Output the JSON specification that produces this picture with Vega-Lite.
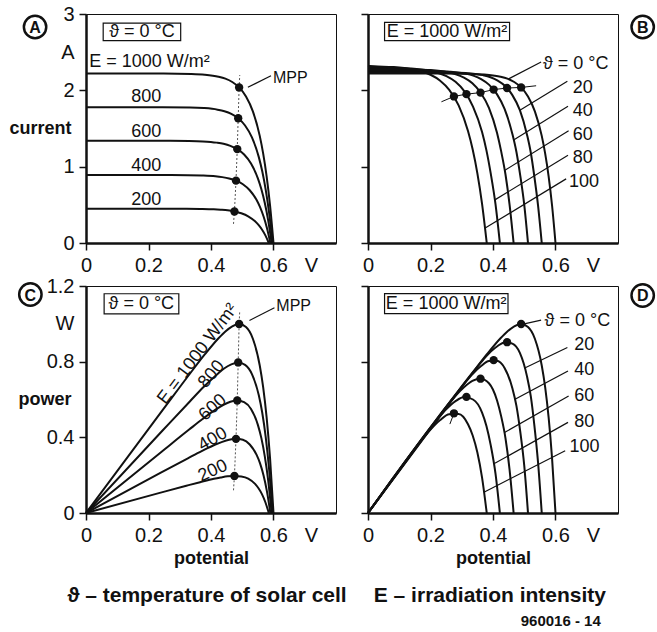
{
"$schema": "https://vega.github.io/schema/vega-lite/v6.json",
"background": "white",
"padding": {"left": 8, "top": 3, "right": 5, "bottom": 5},
"bounds": "flush",
"columns": 2,
"spacing": {"row": 43, "column": 32},
"datasets": {
"curvesE": [
{"E":"1000","V":0.600,"I":0,"P":0},{"E":"1000","V":0.589,"I":0.491,"P":0.289},{"E":"1000","V":0.578,"I":0.874,"P":0.505},{"E":"1000","V":0.567,"I":1.171,"P":0.664},{"E":"1000","V":0.556,"I":1.403,"P":0.780},{"E":"1000","V":0.534,"I":1.725,"P":0.921},{"E":"1000","V":0.512,"I":1.920,"P":0.983},{"E":"1000","V":0.490,"I":2.038,"P":0.999},{"E":"1000","V":0.468,"I":2.109,"P":0.987},{"E":"1000","V":0.446,"I":2.153,"P":0.960},{"E":"1000","V":0.424,"I":2.179,"P":0.924},{"E":"1000","V":0.380,"I":2.205,"P":0.838},{"E":"1000","V":0.336,"I":2.214,"P":0.744},{"E":"1000","V":0.248,"I":2.219,"P":0.550},{"E":"1000","V":0,"I":2.22,"P":0},
{"E":"800","V":0.597,"I":0,"P":0},{"E":"800","V":0.586,"I":0.394,"P":0.231},{"E":"800","V":0.575,"I":0.700,"P":0.403},{"E":"800","V":0.564,"I":0.939,"P":0.530},{"E":"800","V":0.553,"I":1.125,"P":0.622},{"E":"800","V":0.531,"I":1.383,"P":0.734},{"E":"800","V":0.509,"I":1.539,"P":0.783},{"E":"800","V":0.487,"I":1.634,"P":0.796},{"E":"800","V":0.465,"I":1.691,"P":0.786},{"E":"800","V":0.443,"I":1.726,"P":0.765},{"E":"800","V":0.421,"I":1.747,"P":0.735},{"E":"800","V":0.377,"I":1.768,"P":0.667},{"E":"800","V":0.333,"I":1.776,"P":0.591},{"E":"800","V":0.245,"I":1.779,"P":0.436},{"E":"800","V":0,"I":1.78,"P":0},
{"E":"600","V":0.594,"I":0,"P":0},{"E":"600","V":0.583,"I":0.296,"P":0.173},{"E":"600","V":0.572,"I":0.527,"P":0.301},{"E":"600","V":0.561,"I":0.707,"P":0.397},{"E":"600","V":0.550,"I":0.847,"P":0.466},{"E":"600","V":0.528,"I":1.041,"P":0.550},{"E":"600","V":0.506,"I":1.159,"P":0.586},{"E":"600","V":0.484,"I":1.230,"P":0.595},{"E":"600","V":0.462,"I":1.273,"P":0.588},{"E":"600","V":0.440,"I":1.300,"P":0.572},{"E":"600","V":0.418,"I":1.315,"P":0.550},{"E":"600","V":0.374,"I":1.331,"P":0.498},{"E":"600","V":0.330,"I":1.337,"P":0.441},{"E":"600","V":0.242,"I":1.340,"P":0.324},{"E":"600","V":0,"I":1.34,"P":0},
{"E":"400","V":0.590,"I":0,"P":0},{"E":"400","V":0.579,"I":0.197,"P":0.114},{"E":"400","V":0.568,"I":0.350,"P":0.199},{"E":"400","V":0.557,"I":0.470,"P":0.262},{"E":"400","V":0.546,"I":0.563,"P":0.307},{"E":"400","V":0.524,"I":0.691,"P":0.362},{"E":"400","V":0.502,"I":0.770,"P":0.387},{"E":"400","V":0.480,"I":0.817,"P":0.392},{"E":"400","V":0.458,"I":0.846,"P":0.387},{"E":"400","V":0.436,"I":0.863,"P":0.376},{"E":"400","V":0.414,"I":0.874,"P":0.362},{"E":"400","V":0.370,"I":0.884,"P":0.327},{"E":"400","V":0.326,"I":0.888,"P":0.289},{"E":"400","V":0.238,"I":0.890,"P":0.212},{"E":"400","V":0,"I":0.89,"P":0},
{"E":"200","V":0.585,"I":0,"P":0},{"E":"200","V":0.574,"I":0.100,"P":0.057},{"E":"200","V":0.563,"I":0.177,"P":0.100},{"E":"200","V":0.552,"I":0.237,"P":0.131},{"E":"200","V":0.541,"I":0.284,"P":0.154},{"E":"200","V":0.519,"I":0.350,"P":0.182},{"E":"200","V":0.497,"I":0.389,"P":0.193},{"E":"200","V":0.475,"I":0.413,"P":0.196},{"E":"200","V":0.453,"I":0.428,"P":0.194},{"E":"200","V":0.431,"I":0.436,"P":0.188},{"E":"200","V":0.409,"I":0.442,"P":0.181},{"E":"200","V":0.365,"I":0.447,"P":0.163},{"E":"200","V":0.321,"I":0.449,"P":0.144},{"E":"200","V":0.233,"I":0.450,"P":0.105},{"E":"200","V":0,"I":0.45,"P":0}
],
"curvesT": [
{"T":"0","V":0.600,"I":0,"P":0},{"T":"0","V":0.589,"I":0.491,"P":0.289},{"T":"0","V":0.578,"I":0.874,"P":0.505},{"T":"0","V":0.567,"I":1.171,"P":0.664},{"T":"0","V":0.556,"I":1.403,"P":0.780},{"T":"0","V":0.534,"I":1.725,"P":0.921},{"T":"0","V":0.512,"I":1.920,"P":0.983},{"T":"0","V":0.490,"I":2.038,"P":0.999},{"T":"0","V":0.468,"I":2.109,"P":0.987},{"T":"0","V":0.446,"I":2.153,"P":0.960},{"T":"0","V":0.424,"I":2.179,"P":0.924},{"T":"0","V":0.380,"I":2.205,"P":0.838},{"T":"0","V":0.336,"I":2.214,"P":0.744},{"T":"0","V":0.248,"I":2.219,"P":0.550},{"T":"0","V":0,"I":2.22,"P":0},
{"T":"20","V":0.556,"I":0,"P":0},{"T":"20","V":0.544,"I":0.496,"P":0.270},{"T":"20","V":0.532,"I":0.881,"P":0.469},{"T":"20","V":0.521,"I":1.182,"P":0.616},{"T":"20","V":0.509,"I":1.416,"P":0.721},{"T":"20","V":0.486,"I":1.740,"P":0.846},{"T":"20","V":0.462,"I":1.937,"P":0.895},{"T":"20","V":0.439,"I":2.056,"P":0.903},{"T":"20","V":0.415,"I":2.128,"P":0.883},{"T":"20","V":0.392,"I":2.172,"P":0.852},{"T":"20","V":0.368,"I":2.199,"P":0.809},{"T":"20","V":0.321,"I":2.225,"P":0.714},{"T":"20","V":0.274,"I":2.234,"P":0.612},{"T":"20","V":0.180,"I":2.239,"P":0.403},{"T":"20","V":0,"I":2.24,"P":0},
{"T":"40","V":0.512,"I":0,"P":0},{"T":"40","V":0.500,"I":0.500,"P":0.250},{"T":"40","V":0.487,"I":0.889,"P":0.433},{"T":"40","V":0.475,"I":1.192,"P":0.566},{"T":"40","V":0.462,"I":1.429,"P":0.660},{"T":"40","V":0.437,"I":1.756,"P":0.767},{"T":"40","V":0.412,"I":1.954,"P":0.805},{"T":"40","V":0.387,"I":2.075,"P":0.803},{"T":"40","V":0.362,"I":2.148,"P":0.777},{"T":"40","V":0.337,"I":2.192,"P":0.739},{"T":"40","V":0.312,"I":2.219,"P":0.692},{"T":"40","V":0.262,"I":2.245,"P":0.588},{"T":"40","V":0.212,"I":2.254,"P":0.478},{"T":"40","V":0.112,"I":2.259,"P":0.253},{"T":"40","V":0,"I":2.26,"P":0},
{"T":"60","V":0.466,"I":0,"P":0},{"T":"60","V":0.453,"I":0.504,"P":0.229},{"T":"60","V":0.440,"I":0.897,"P":0.395},{"T":"60","V":0.426,"I":1.203,"P":0.512},{"T":"60","V":0.413,"I":1.441,"P":0.595},{"T":"60","V":0.387,"I":1.771,"P":0.686},{"T":"60","V":0.360,"I":1.972,"P":0.710},{"T":"60","V":0.334,"I":2.093,"P":0.699},{"T":"60","V":0.307,"I":2.166,"P":0.665},{"T":"60","V":0.281,"I":2.211,"P":0.621},{"T":"60","V":0.254,"I":2.238,"P":0.569},{"T":"60","V":0.201,"I":2.265,"P":0.455},{"T":"60","V":0.148,"I":2.274,"P":0.337},{"T":"60","V":0.042,"I":2.279,"P":0.096},{"T":"60","V":0,"I":2.28,"P":0},
{"T":"80","V":0.422,"I":0,"P":0},{"T":"80","V":0.408,"I":0.509,"P":0.208},{"T":"80","V":0.393,"I":0.905,"P":0.356},{"T":"80","V":0.379,"I":1.214,"P":0.460},{"T":"80","V":0.365,"I":1.454,"P":0.531},{"T":"80","V":0.336,"I":1.787,"P":0.600},{"T":"80","V":0.308,"I":1.989,"P":0.613},{"T":"80","V":0.280,"I":2.111,"P":0.591},{"T":"80","V":0.251,"I":2.186,"P":0.549},{"T":"80","V":0.222,"I":2.231,"P":0.495},{"T":"80","V":0.194,"I":2.258,"P":0.438},{"T":"80","V":0.137,"I":2.285,"P":0.313},{"T":"80","V":0.080,"I":2.294,"P":0.184},{"T":"80","V":0,"I":2.30,"P":0},
{"T":"100","V":0.380,"I":0,"P":0},{"T":"100","V":0.365,"I":0.513,"P":0.187},{"T":"100","V":0.350,"I":0.913,"P":0.320},{"T":"100","V":0.335,"I":1.224,"P":0.410},{"T":"100","V":0.320,"I":1.466,"P":0.469},{"T":"100","V":0.290,"I":1.802,"P":0.523},{"T":"100","V":0.260,"I":2.006,"P":0.522},{"T":"100","V":0.230,"I":2.130,"P":0.490},{"T":"100","V":0.200,"I":2.204,"P":0.441},{"T":"100","V":0.170,"I":2.250,"P":0.383},{"T":"100","V":0.140,"I":2.278,"P":0.319},{"T":"100","V":0.080,"I":2.305,"P":0.184},{"T":"100","V":0.020,"I":2.314,"P":0.046},{"T":"100","V":0,"I":2.32,"P":0}
],
"mppE": [
{"E":"1000","V":0.490,"I":2.038,"P":0.999},{"E":"800","V":0.487,"I":1.634,"P":0.796},{"E":"600","V":0.484,"I":1.230,"P":0.595},{"E":"400","V":0.480,"I":0.817,"P":0.392},{"E":"200","V":0.475,"I":0.413,"P":0.196}
],
"mppLineE": [
{"V":0.472,"I":0.25,"P":0.12},{"V":0.475,"I":0.413,"P":0.196},{"V":0.480,"I":0.817,"P":0.392},{"V":0.484,"I":1.230,"P":0.595},{"V":0.487,"I":1.634,"P":0.796},{"V":0.490,"I":2.038,"P":0.999},{"V":0.492,"I":2.2,"P":1.07}
],
"mppT": [
{"T":"0","V":0.490,"I":2.038,"P":0.999},{"T":"20","V":0.445,"I":2.03,"P":0.903},{"T":"40","V":0.402,"I":2.01,"P":0.808},{"T":"60","V":0.360,"I":1.97,"P":0.710},{"T":"80","V":0.315,"I":1.95,"P":0.614},{"T":"100","V":0.275,"I":1.92,"P":0.527}
],
"locusB": [
{"V":0.235,"I":1.85},{"V":0.275,"I":1.92},{"V":0.315,"I":1.95},{"V":0.360,"I":1.97},{"V":0.402,"I":2.01},{"V":0.445,"I":2.03},{"V":0.490,"I":2.038},{"V":0.538,"I":2.06}
],
"locusD": [
{"V":0.262,"P":0.47},{"V":0.275,"P":0.527}
],
"leadB": [
{"T":"0","V":0.450,"I":2.15},{"T":"0","V":0.554,"I":2.37},
{"T":"20","V":0.486,"I":1.74},{"T":"20","V":0.638,"I":2.12},
{"T":"40","V":0.466,"I":1.35},{"T":"40","V":0.640,"I":1.79},
{"T":"60","V":0.437,"I":0.95},{"T":"60","V":0.642,"I":1.47},
{"T":"80","V":0.406,"I":0.565},{"T":"80","V":0.640,"I":1.15},
{"T":"100","V":0.375,"I":0.196},{"T":"100","V":0.634,"I":0.84}
],
"leadD": [
{"T":"0","V":0.500,"P":1.00},{"T":"0","V":0.554,"P":1.02},
{"T":"20","V":0.500,"P":0.765},{"T":"20","V":0.638,"P":0.875},
{"T":"40","V":0.469,"P":0.60},{"T":"40","V":0.640,"P":0.751},
{"T":"60","V":0.437,"P":0.426},{"T":"60","V":0.642,"P":0.619},
{"T":"80","V":0.403,"P":0.26},{"T":"80","V":0.640,"P":0.479},
{"T":"100","V":0.371,"P":0.11},{"T":"100","V":0.631,"P":0.329}
]
},
"concat": [
{
"width": 250, "height": 229,
"encoding": {
"x": {"field": "V", "type": "quantitative", "scale": {"domain": [0, 0.8], "nice": false},
 "axis": {"values": [0, 0.2, 0.4, 0.6, 0.72], "format": "~g", "labelExpr": "datum.value > 0.7 ? 'V' : datum.label", "tickOpacity": {"condition": {"test": "datum.value > 0.7", "value": 0}, "value": 1}, "title": null}},
"y": {"field": "I", "type": "quantitative", "scale": {"domain": [0, 3], "nice": false},
 "axis": {"values": [0, 1, 2, 2.5, 3], "format": "~g", "labelExpr": "datum.value == 2.5 ? 'A' : datum.label", "tickOpacity": {"condition": {"test": "datum.value == 2.5", "value": 0}, "value": 1}, "title": "current", "titleAngle": 0, "titleAlign": "right", "titleBaseline": "middle", "titleX": -15, "titleY": 114}}
},
"layer": [
{"data": {"name": "curvesE"}, "mark": {"type": "line", "interpolate": "monotone", "strokeWidth": 2, "color": "#111"}, "encoding": {"detail": {"field": "E", "type": "nominal"}}},
{"data": {"name": "mppLineE"}, "mark": {"type": "line", "strokeDash": [2, 2], "strokeWidth": 1, "color": "#555"}},
{"data": {"name": "mppE"}, "mark": {"type": "point", "filled": true, "size": 70, "opacity": 1, "color": "#111"}},
{"data": {"values": [{"V": 0.518, "I": 2.04}, {"V": 0.592, "I": 2.19}]}, "mark": {"type": "line", "strokeWidth": 1.2, "color": "#111"}},
{"data": {"values": [{"V": 0.01, "I": 2.37, "t": "E = 1000 W/m²"}, {"V": 0.145, "I": 1.91, "t": "800"}, {"V": 0.145, "I": 1.46, "t": "600"}, {"V": 0.145, "I": 1.01, "t": "400"}, {"V": 0.145, "I": 0.56, "t": "200"}]},
 "mark": {"type": "text", "align": "left", "baseline": "middle", "fontSize": 18}, "encoding": {"text": {"field": "t"}}},
{"data": {"values": [{"V": 0.598, "I": 2.16, "t": "MPP"}]}, "mark": {"type": "text", "align": "left", "baseline": "middle", "fontSize": 16}, "encoding": {"text": {"field": "t"}}},
{"data": {"values": [{"V": 0.055, "V2": 0.303, "I": 2.88, "I2": 2.65}]}, "mark": {"type": "rect", "filled": false, "stroke": "#111", "strokeWidth": 1.2}, "encoding": {"x2": {"field": "V2"}, "y2": {"field": "I2"}}},
{"data": {"values": [{"V": 0.179, "I": 2.765, "t": "ϑ = 0 °C"}]}, "mark": {"type": "text", "align": "center", "baseline": "middle", "fontSize": 18}, "encoding": {"text": {"field": "t"}}},
{"data": {"values": [{"V": -0.163, "I": 2.83, "t": "A"}]}, "layer": [
 {"mark": {"type": "point", "size": 500, "strokeWidth": 2.5, "color": "#111", "filled": false, "opacity": 1}},
 {"mark": {"type": "text", "fontSize": 16, "fontWeight": "bold", "align": "center", "baseline": "middle", "dy": 1}, "encoding": {"text": {"field": "t"}}}]}
]
},
{
"width": 250, "height": 229,
"encoding": {
"x": {"field": "V", "type": "quantitative", "scale": {"domain": [0, 0.8], "nice": false},
 "axis": {"values": [0, 0.2, 0.4, 0.6, 0.72], "format": "~g", "labelExpr": "datum.value > 0.7 ? 'V' : datum.label", "tickOpacity": {"condition": {"test": "datum.value > 0.7", "value": 0}, "value": 1}, "title": null}},
"y": {"field": "I", "type": "quantitative", "scale": {"domain": [0, 3], "nice": false},
 "axis": {"values": [0, 1, 2, 3], "labels": false, "title": null}}
},
"layer": [
{"data": {"name": "curvesT"}, "mark": {"type": "line", "interpolate": "monotone", "strokeWidth": 2, "color": "#111"}, "encoding": {"detail": {"field": "T", "type": "nominal"}}},
{"data": {"name": "locusB"}, "mark": {"type": "line", "strokeWidth": 1, "color": "#111"}},
{"data": {"name": "mppT"}, "mark": {"type": "point", "filled": true, "size": 70, "opacity": 1, "color": "#111"}},
{"data": {"name": "leadB"}, "mark": {"type": "line", "strokeWidth": 1.2, "color": "#111"}, "encoding": {"detail": {"field": "T", "type": "nominal"}}},
{"data": {"values": [{"V": 0.560, "I": 2.35, "t": "ϑ = 0 °C"}, {"V": 0.655, "I": 2.03, "t": "20"}, {"V": 0.655, "I": 1.73, "t": "40"}, {"V": 0.655, "I": 1.41, "t": "60"}, {"V": 0.655, "I": 1.12, "t": "80"}, {"V": 0.643, "I": 0.80, "t": "100"}]},
 "mark": {"type": "text", "align": "left", "baseline": "middle", "fontSize": 18}, "encoding": {"text": {"field": "t"}}},
{"data": {"values": [{"V": 0.053, "V2": 0.453, "I": 2.89, "I2": 2.65}]}, "mark": {"type": "rect", "filled": false, "stroke": "#111", "strokeWidth": 1.2}, "encoding": {"x2": {"field": "V2"}, "y2": {"field": "I2"}}},
{"data": {"values": [{"V": 0.253, "I": 2.77, "t": "E = 1000 W/m²"}]}, "mark": {"type": "text", "align": "center", "baseline": "middle", "fontSize": 18}, "encoding": {"text": {"field": "t"}}},
{"data": {"values": [{"V": 0.879, "I": 2.83, "t": "B"}]}, "layer": [
 {"mark": {"type": "point", "size": 500, "strokeWidth": 2.5, "color": "#111", "filled": false, "opacity": 1}},
 {"mark": {"type": "text", "fontSize": 16, "fontWeight": "bold", "align": "center", "baseline": "middle", "dy": 1}, "encoding": {"text": {"field": "t"}}}]}
]
},
{
"width": 250, "height": 227,
"encoding": {
"x": {"field": "V", "type": "quantitative", "scale": {"domain": [0, 0.8], "nice": false},
 "axis": {"values": [0, 0.2, 0.4, 0.6, 0.72], "format": "~g", "labelExpr": "datum.value > 0.7 ? 'V' : datum.label", "tickOpacity": {"condition": {"test": "datum.value > 0.7", "value": 0}, "value": 1}, "title": "potential", "titlePadding": 4}},
"y": {"field": "P", "type": "quantitative", "scale": {"domain": [0, 1.2], "nice": false},
 "axis": {"values": [0, 0.4, 0.8, 1.0, 1.2], "format": "~g", "labelExpr": "datum.value == 1 ? 'W' : datum.label", "tickOpacity": {"condition": {"test": "datum.value == 1", "value": 0}, "value": 1}, "title": "power", "titleAngle": 0, "titleAlign": "right", "titleBaseline": "middle", "titleX": -15, "titleY": 113}}
},
"layer": [
{"data": {"name": "curvesE"}, "mark": {"type": "line", "interpolate": "monotone", "strokeWidth": 2, "color": "#111"}, "encoding": {"detail": {"field": "E", "type": "nominal"}}},
{"data": {"name": "mppLineE"}, "mark": {"type": "line", "strokeDash": [2, 2], "strokeWidth": 1, "color": "#555"}},
{"data": {"name": "mppE"}, "mark": {"type": "point", "filled": true, "size": 70, "opacity": 1, "color": "#111"}},
{"data": {"values": [{"V": 0.523, "P": 1.018}, {"V": 0.603, "P": 1.085}]}, "mark": {"type": "line", "strokeWidth": 1.2, "color": "#111"}},
{"data": {"values": [{"V": 0.609, "P": 1.094, "t": "MPP"}]}, "mark": {"type": "text", "align": "left", "baseline": "middle", "fontSize": 16}, "encoding": {"text": {"field": "t"}}},
{"data": {"values": [{"V": 0.358, "P": 0.84, "t": "E = 1000 W/m²"}]}, "mark": {"type": "text", "align": "center", "baseline": "middle", "fontSize": 18, "angle": -53}, "encoding": {"text": {"field": "t"}}},
{"data": {"values": [{"V": 0.402, "P": 0.733, "t": "800"}]}, "mark": {"type": "text", "align": "center", "baseline": "middle", "fontSize": 18, "angle": -50}, "encoding": {"text": {"field": "t"}}},
{"data": {"values": [{"V": 0.406, "P": 0.557, "t": "600"}]}, "mark": {"type": "text", "align": "center", "baseline": "middle", "fontSize": 18, "angle": -42}, "encoding": {"text": {"field": "t"}}},
{"data": {"values": [{"V": 0.406, "P": 0.389, "t": "400"}]}, "mark": {"type": "text", "align": "center", "baseline": "middle", "fontSize": 18, "angle": -30}, "encoding": {"text": {"field": "t"}}},
{"data": {"values": [{"V": 0.406, "P": 0.222, "t": "200"}]}, "mark": {"type": "text", "align": "center", "baseline": "middle", "fontSize": 18, "angle": -24}, "encoding": {"text": {"field": "t"}}},
{"data": {"values": [{"V": 0.058, "V2": 0.297, "P": 1.159, "P2": 1.053}]}, "mark": {"type": "rect", "filled": false, "stroke": "#111", "strokeWidth": 1.2}, "encoding": {"x2": {"field": "V2"}, "y2": {"field": "P2"}}},
{"data": {"values": [{"V": 0.177, "P": 1.106, "t": "ϑ = 0 °C"}]}, "mark": {"type": "text", "align": "center", "baseline": "middle", "fontSize": 18}, "encoding": {"text": {"field": "t"}}},
{"data": {"values": [{"V": 0.387, "P": -0.44, "t": "ϑ – temperature of solar cell"}]}, "mark": {"type": "text", "align": "center", "baseline": "middle", "fontSize": 21, "fontWeight": "bold"}, "encoding": {"text": {"field": "t"}}},
{"data": {"values": [{"V": -0.178, "P": 1.155, "t": "C"}]}, "layer": [
 {"mark": {"type": "point", "size": 500, "strokeWidth": 2.5, "color": "#111", "filled": false, "opacity": 1}},
 {"mark": {"type": "text", "fontSize": 16, "fontWeight": "bold", "align": "center", "baseline": "middle", "dy": 1}, "encoding": {"text": {"field": "t"}}}]}
]
},
{
"width": 250, "height": 227,
"encoding": {
"x": {"field": "V", "type": "quantitative", "scale": {"domain": [0, 0.8], "nice": false},
 "axis": {"values": [0, 0.2, 0.4, 0.6, 0.72], "format": "~g", "labelExpr": "datum.value > 0.7 ? 'V' : datum.label", "tickOpacity": {"condition": {"test": "datum.value > 0.7", "value": 0}, "value": 1}, "title": "potential", "titlePadding": 4}},
"y": {"field": "P", "type": "quantitative", "scale": {"domain": [0, 1.2], "nice": false},
 "axis": {"values": [0, 0.4, 0.8, 1.2], "labels": false, "title": null}}
},
"layer": [
{"data": {"name": "curvesT"}, "mark": {"type": "line", "interpolate": "monotone", "strokeWidth": 2, "color": "#111"}, "encoding": {"detail": {"field": "T", "type": "nominal"}}},
{"data": {"name": "locusD"}, "mark": {"type": "line", "strokeWidth": 1, "color": "#111"}},
{"data": {"name": "mppT"}, "mark": {"type": "point", "filled": true, "size": 70, "opacity": 1, "color": "#111"}},
{"data": {"name": "leadD"}, "mark": {"type": "line", "strokeWidth": 1.2, "color": "#111"}, "encoding": {"detail": {"field": "T", "type": "nominal"}}},
{"data": {"values": [{"V": 0.565, "P": 1.015, "t": "ϑ = 0 °C"}, {"V": 0.66, "P": 0.889, "t": "20"}, {"V": 0.66, "P": 0.755, "t": "40"}, {"V": 0.66, "P": 0.619, "t": "60"}, {"V": 0.66, "P": 0.479, "t": "80"}, {"V": 0.645, "P": 0.347, "t": "100"}]},
 "mark": {"type": "text", "align": "left", "baseline": "middle", "fontSize": 18}, "encoding": {"text": {"field": "t"}}},
{"data": {"values": [{"V": 0.053, "V2": 0.448, "P": 1.16, "P2": 1.054}]}, "mark": {"type": "rect", "filled": false, "stroke": "#111", "strokeWidth": 1.2}, "encoding": {"x2": {"field": "V2"}, "y2": {"field": "P2"}}},
{"data": {"values": [{"V": 0.25, "P": 1.107, "t": "E = 1000 W/m²"}]}, "mark": {"type": "text", "align": "center", "baseline": "middle", "fontSize": 18}, "encoding": {"text": {"field": "t"}}},
{"data": {"values": [{"V": 0.39, "P": -0.44, "t": "E – irradiation intensity"}]}, "mark": {"type": "text", "align": "center", "baseline": "middle", "fontSize": 21, "fontWeight": "bold"}, "encoding": {"text": {"field": "t"}}},
{"data": {"values": [{"V": 0.745, "P": -0.57, "t": "960016 - 14"}]}, "mark": {"type": "text", "align": "right", "baseline": "middle", "fontSize": 15, "fontWeight": "bold"}, "encoding": {"text": {"field": "t"}}},
{"data": {"values": [{"V": 0.879, "P": 1.15, "t": "D"}]}, "layer": [
 {"mark": {"type": "point", "size": 500, "strokeWidth": 2.5, "color": "#111", "filled": false, "opacity": 1}},
 {"mark": {"type": "text", "fontSize": 16, "fontWeight": "bold", "align": "center", "baseline": "middle", "dy": 1}, "encoding": {"text": {"field": "t"}}}]}
]
}
],
"config": {
"view": {"stroke": "#111", "strokeWidth": 1},
"axis": {"grid": false, "domainColor": "#111", "domainWidth": 2.5, "tickColor": "#111", "tickWidth": 1.5, "tickSize": 7, "labelFont": "Liberation Sans", "labelFontSize": 20, "labelColor": "#111", "labelPadding": 5, "labelFlush": false, "labelOverlap": false, "titleFont": "Liberation Sans", "titleFontSize": 18, "titleFontWeight": "bold", "titleColor": "#111"},
"text": {"font": "Liberation Sans", "fontSize": 18, "color": "#111"}
}
}
